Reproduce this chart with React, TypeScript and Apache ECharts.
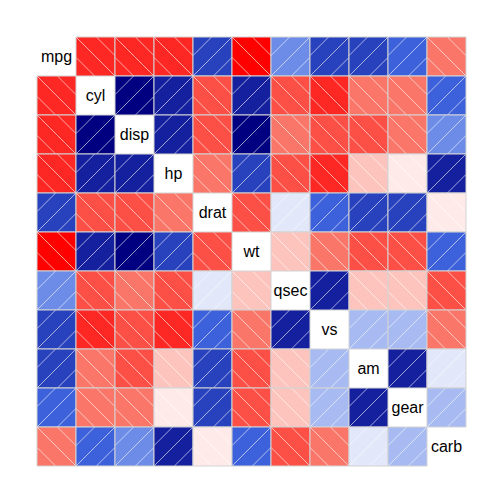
import React, { useEffect, useRef } from "react";
import * as echarts from "echarts";

const variables = ["mpg", "cyl", "disp", "hp", "drat", "wt", "qsec", "vs", "am", "gear", "carb"];

const mpgRow = [1, -0.85, -0.85, -0.78, 0.68, -0.87, 0.42, 0.66, 0.6, 0.48, -0.55];
const cylRow = [-0.85, 1, 0.9, 0.83, -0.7, 0.78, -0.59, -0.81, -0.52, -0.49, 0.53];
const dispRow = [-0.85, 0.9, 1, 0.79, -0.71, 0.89, -0.43, -0.71, -0.59, -0.56, 0.39];
const hpRow = [-0.78, 0.83, 0.79, 1, -0.45, 0.66, -0.71, -0.72, -0.24, -0.13, 0.75];
const dratRow = [0.68, -0.7, -0.71, -0.45, 1, -0.71, 0.09, 0.44, 0.71, 0.7, -0.09];
const wtRow = [-0.87, 0.78, 0.89, 0.66, -0.71, 1, -0.17, -0.55, -0.69, -0.58, 0.43];
const qsecRow = [0.42, -0.59, -0.43, -0.71, 0.09, -0.17, 1, 0.74, -0.23, -0.21, -0.66];
const vsRow = [0.66, -0.81, -0.71, -0.72, 0.44, -0.55, 0.74, 1, 0.17, 0.21, -0.57];
const amRow = [0.6, -0.52, -0.59, -0.24, 0.71, -0.69, -0.23, 0.17, 1, 0.79, 0.06];
const gearRow = [0.48, -0.49, -0.56, -0.13, 0.7, -0.58, -0.21, 0.21, 0.79, 1, 0.27];
const carbRow = [-0.55, 0.53, 0.39, 0.75, -0.09, 0.43, -0.66, -0.57, 0.06, 0.27, 1];

const corrRows = [mpgRow, cylRow, dispRow, hpRow, dratRow, wtRow, qsecRow, vsRow, amRow, gearRow, carbRow];

// colour ramp red -> salmon -> white -> royalblue -> navy, quantised to 14 levels
const rampStops = [
  [255, 0, 0],
  [250, 128, 114],
  [255, 255, 255],
  [65, 105, 225],
  [0, 0, 128],
];
const NCOL = 14;
function rampAt(t: number) {
  const seg = Math.min(3, Math.floor(t * 4));
  const f = t * 4 - seg;
  const a = rampStops[seg];
  const b = rampStops[seg + 1];
  const c = a.map((v, i) => Math.round(v + (b[i] - v) * f));
  return `rgb(${c[0]},${c[1]},${c[2]})`;
}
const palette = Array.from({ length: NCOL }, (_, i) => rampAt(i / (NCOL - 1)));
function colorFor(r: number) {
  let idx = Math.floor(((r + 1) / 2) * NCOL);
  if (idx < 0) idx = 0;
  if (idx > NCOL - 1) idx = NCOL - 1;
  return palette[idx];
}

export default function App() {
  const ref = useRef<HTMLDivElement>(null);
  useEffect(() => {
    if (!ref.current) return;
    const chart = echarts.init(ref.current, null, { renderer: "svg" });
    const data: any[] = [];
    corrRows.forEach((row, ri) => {
      row.forEach((v, ci) => {
        data.push([ci, ri, v]);
      });
    });
    const spacing = 20.4;
    chart.setOption({
      animation: false,
      grid: { left: 37, top: 37, width: 429, height: 429 },
      xAxis: { type: "value", min: 0, max: 11, show: false },
      yAxis: { type: "value", min: 0, max: 11, inverse: true, show: false },
      series: [
        {
          type: "custom",
          data,
          renderItem: (params: any, api: any) => {
            const ci = api.value(0);
            const ri = api.value(1);
            const r = api.value(2);
            const p0 = api.coord([ci, ri]);
            const p1 = api.coord([ci + 1, ri + 1]);
            const x = p0[0];
            const y = p0[1];
            const s = p1[0] - p0[0];
            if (ci === ri) {
              return {
                type: "text",
                style: {
                  text: variables[ci],
                  x: x + s / 2,
                  y: y + s / 2,
                  align: "center",
                  verticalAlign: "middle",
                  fontSize: 16,
                  fontFamily: "Liberation Sans, Arial, sans-serif",
                  fill: "#000",
                },
              };
            }
            const children: any[] = [];
            children.push({
              type: "rect",
              shape: { x, y, width: s, height: s },
              style: { fill: colorFor(r), stroke: null },
            });
            for (const k of [-spacing, 0, spacing]) {
              let u1, v1, u2, v2;
              if (k >= 0) {
                u1 = k; v1 = 0; u2 = s; v2 = s - k;
              } else {
                u1 = 0; v1 = -k; u2 = s + k; v2 = s;
              }
              if (r > 0) {
                v1 = s - v1;
                v2 = s - v2;
              }
              children.push({
                type: "line",
                shape: { x1: x + u1, y1: y + v1, x2: x + u2, y2: y + v2 },
                style: { stroke: "rgba(255,255,255,0.6)", lineWidth: 1 },
              });
            }
            children.push({
              type: "rect",
              shape: { x, y, width: s, height: s },
              style: { fill: "none", stroke: "#D3D3D3", lineWidth: 1 },
            });
            return { type: "group", children };
          },
        },
      ],
    });
    return () => chart.dispose();
  }, []);
  return (
    <div
      ref={ref}
      style={{ position: "fixed", left: 0, top: 0, width: 504, height: 504, background: "#fff" }}
    />
  );
}
